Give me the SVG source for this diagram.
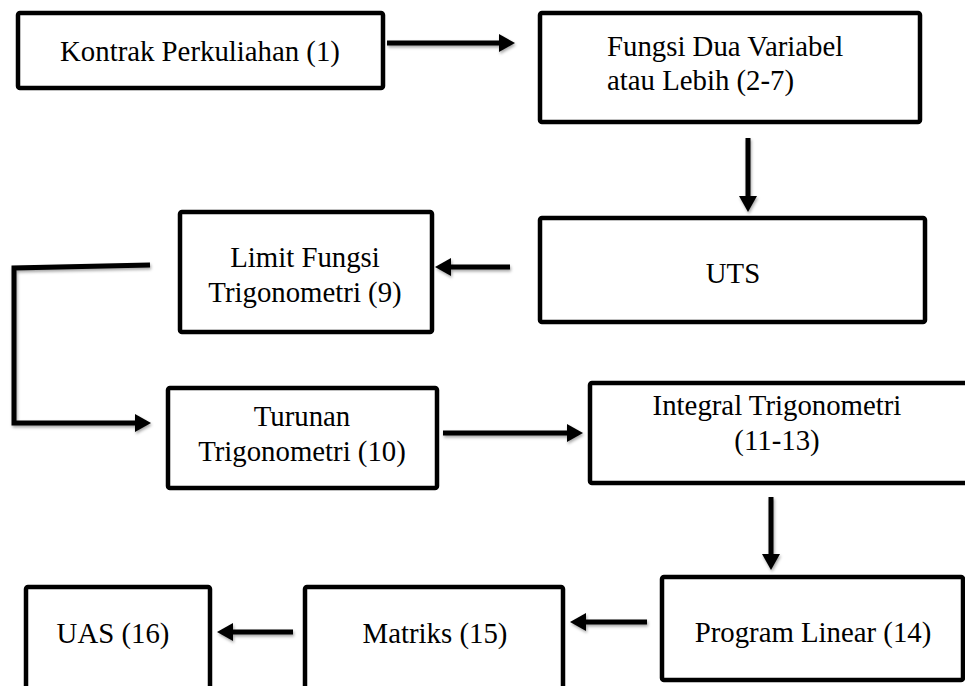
<svg xmlns="http://www.w3.org/2000/svg" width="965" height="686" viewBox="0 0 965 686">
<style>
  .box { fill: #fff; stroke: #000; stroke-width: 4.5; }
  .lbl { font-family: "Liberation Serif", "Times New Roman", serif; font-size: 28.8px; fill: #000; }
  .c { text-anchor: middle; }
  .conn { fill: none; stroke: #000; stroke-width: 5; filter: url(#sh); }
</style>
<defs>
  <marker id="ah" markerUnits="userSpaceOnUse" markerWidth="16" markerHeight="18" refX="0" refY="9" orient="auto">
    <path d="M0,0 L16,9 L0,18 z" fill="#000"/>
  </marker>
  <filter id="sh" filterUnits="userSpaceOnUse" x="0" y="0" width="965" height="686">
    <feDropShadow dx="1" dy="2" stdDeviation="1.5" flood-color="#000" flood-opacity="0.35"/>
  </filter>
</defs>
<rect width="965" height="686" fill="#fff"/>
<g id="connectors">
  <line class="conn" x1="387" y1="43" x2="499" y2="43" marker-end="url(#ah)"/>
  <line class="conn" x1="748" y1="138" x2="748" y2="196" marker-end="url(#ah)"/>
  <line class="conn" x1="510" y1="267" x2="451" y2="267" marker-end="url(#ah)"/>
  <polyline class="conn" points="150,265 14,268 14,423 135,423" marker-end="url(#ah)"/>
  <line class="conn" x1="443" y1="433" x2="567" y2="433" marker-end="url(#ah)"/>
  <line class="conn" x1="771" y1="497" x2="771" y2="554" marker-end="url(#ah)"/>
  <line class="conn" x1="647" y1="622" x2="586" y2="622" marker-end="url(#ah)"/>
  <line class="conn" x1="293" y1="632" x2="233" y2="632" marker-end="url(#ah)"/>
</g>
<g id="n1"><rect class="box" x="18" y="13" width="365" height="75" rx="2"/><text class="lbl c" x="200" y="61">Kontrak Perkuliahan (1)</text></g>
<g id="n2"><rect class="box" x="540" y="13" width="380" height="109" rx="2"/><text class="lbl" x="607" y="56">Fungsi Dua Variabel</text><text class="lbl" x="607" y="90">atau Lebih (2-7)</text></g>
<g id="n3"><rect class="box" x="540" y="218" width="385" height="104" rx="2"/><text class="lbl c" x="733" y="283">UTS</text></g>
<g id="n4"><rect class="box" x="180" y="212" width="252" height="120" rx="2"/><text class="lbl c" x="305" y="267">Limit Fungsi</text><text class="lbl c" x="305" y="302">Trigonometri (9)</text></g>
<g id="n5"><rect class="box" x="168" y="388" width="269" height="100" rx="2"/><text class="lbl c" x="302" y="426">Turunan</text><text class="lbl c" x="302" y="461">Trigonometri (10)</text></g>
<g id="n6"><rect class="box" x="590" y="383" width="385" height="100" rx="2"/><text class="lbl c" x="777" y="415">Integral Trigonometri</text><text class="lbl c" x="777" y="450">(11-13)</text></g>
<g id="n7"><rect class="box" x="662" y="577" width="301" height="103" rx="2"/><text class="lbl c" x="813" y="642">Program Linear (14)</text></g>
<g id="n8"><rect class="box" x="305" y="587" width="258" height="120" rx="2"/><text class="lbl c" x="435" y="643">Matriks (15)</text></g>
<g id="n9"><rect class="box" x="26" y="587" width="184" height="120" rx="2"/><text class="lbl c" x="113" y="643">UAS (16)</text></g>
</svg>
